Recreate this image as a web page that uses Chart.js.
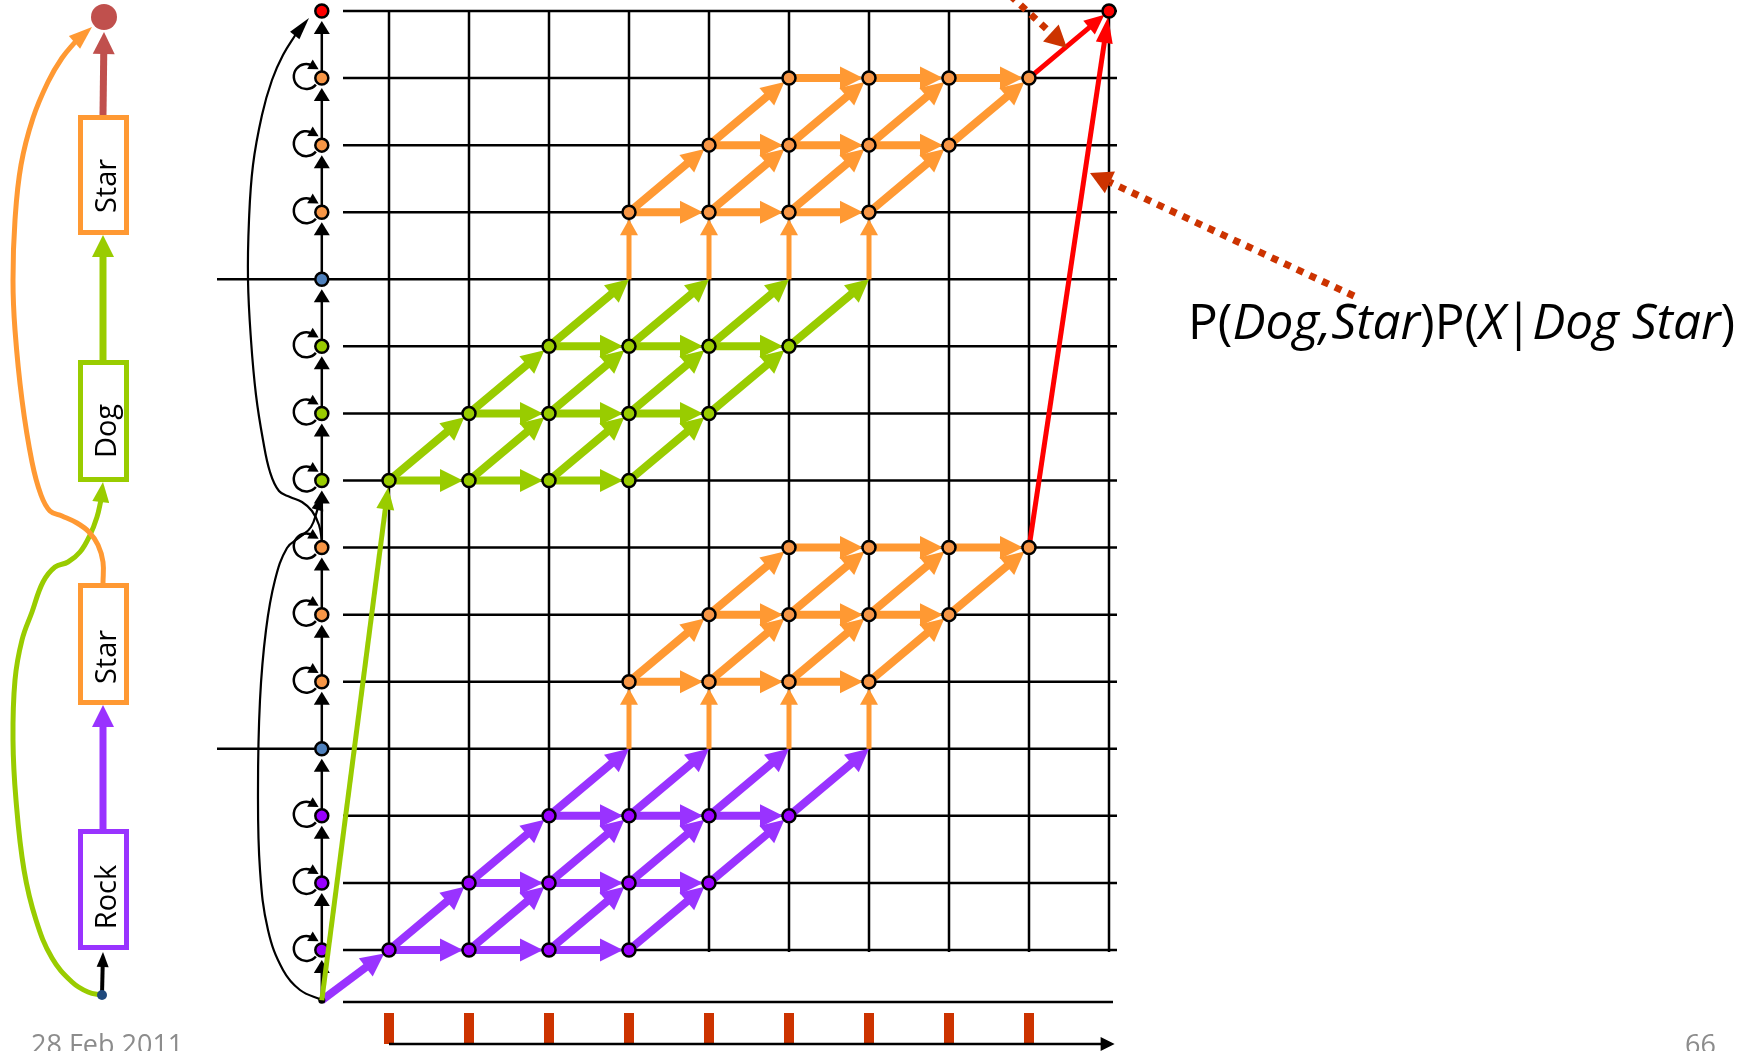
<!DOCTYPE html>
<html>
<head>
<meta charset="utf-8">
<script src="https://cdn.jsdelivr.net/npm/chart.js@4.4.1/dist/chart.umd.min.js"></script>
<style>
  html, body { margin: 0; padding: 0; background: #fff; overflow: hidden; }
  #wrap { position: relative; width: 1750px; height: 1051px; font-family: 'Open Sans', sans-serif; }
  #lattice { position: absolute; left: 0; top: 0; }
  .label { position: absolute; white-space: nowrap; line-height: 1; color: #000; }
  .word { font-size: 29px; transform: translate(-50%, -50%) rotate(-90deg); }
  .formula { font-size: 49.5px; }
  .footer { font-size: 27px; color: #8c8c8c; }
</style>
</head>
<body>
<div id="wrap">
  <canvas id="lattice" width="1750" height="1051"></canvas>
  <div class="label formula" style="left:1188px; top:296px">P(<i>Dog,Star</i>)P(<i>X</i>|<i>Dog Star</i>)</div>
  <div class="label footer" style="left:31px; top:1030px">28 Feb 2011</div>
  <div class="label footer" style="left:1685px; top:1030px">66</div>
</div>
<script>
  // colours
  const ORANGE = '#FF9933';
  const GREEN = '#99CC00';
  const PURPLE = '#9933FF';
  const BROWN = '#C0504D';
  const RUST = '#CC3300';
  const NODE_FILL = { purple: '#9900FF', orange: '#F79646', green: '#99CC00', blue: '#4F81BD', red: '#FF0000' };

  // lattice: columns 1..10 are frames, rows 1..15 are HMM states, row START_ROW is the start node
  const NODE_COL = 0.16;
  const START_ROW = 0.25;
  const GRID_COLS = [1, 2, 3, 4, 5, 6, 7, 8, 9, 10];
  const GRID_ROWS = [1, 2, 3, 4, 5, 6, 7, 8, 9, 10, 11, 12, 13, 14, 15];
  const BLUE_ROWS = [4, 11];
  const FRAME_TICKS = [1, 2, 3, 4, 5, 6, 7, 8, 9];
  const COLUMN_STATES = ['purple', 'purple', 'purple', 'blue', 'orange', 'orange', 'orange',
                         'green', 'green', 'green', 'blue', 'orange', 'orange', 'orange', 'red'];
  const LOOP_ROWS = [1, 2, 3, 5, 6, 7, 8, 9, 10, 12, 13, 14];

  const ROCK_ROWS = [1, 2, 3];
  const ROCK_COLS = [[1, 2, 3, 4], [2, 3, 4, 5], [3, 4, 5, 6]];
  const STAR_LO_ROWS = [5, 6, 7];
  const STAR_LO_COLS = [[4, 5, 6, 7], [5, 6, 7, 8], [6, 7, 8, 9]];
  const DOG_ROWS = [8, 9, 10];
  const DOG_COLS = [[1, 2, 3, 4], [2, 3, 4, 5], [3, 4, 5, 6]];
  const STAR_HI_ROWS = [12, 13, 14];
  const STAR_HI_COLS = [[4, 5, 6, 7], [5, 6, 7, 8], [6, 7, 8, 9]];
  const END_NODE = [10, 15];

  // word chain on the left (page units)
  const CHAIN_WORDS = ['Star', 'Dog', 'Star', 'Rock'];
  const CHAIN_COLORS = [ORANGE, GREEN, ORANGE, PURPLE];
  const BOX_TOP = [117.5, 362.5, 585.5, 831.5];
  const BOX_BOTTOM = [232.5, 479.5, 702.5, 947.5];
  const BOX_LEFT = 80.5, BOX_RIGHT = 126.5;
  const LABEL_Y = [186, 431, 657, 897];
  const CHAIN_X = 103;
  const CHAIN_END = [104, 17];
  const CHAIN_START = [102, 995];

  const ORANGE_SKIP = [[103, 583], [103, 562], [98, 545], [89, 532], [77, 523], [62, 516], [50, 511], [41, 495],
    [32, 462], [22, 400], [15, 330], [13, 280], [15, 220], [21, 165], [33, 118], [48, 82], [62, 58], [76, 41]];
  const ORANGE_SKIP_TIP = [92, 27];
  const GREEN_SKIP = [[102, 995], [88, 992], [72, 982], [52, 958], [36, 920], [24, 870], [16, 800], [13, 740],
    [15, 680], [22, 640], [32, 612], [43, 582], [55, 567], [68, 562], [80, 552], [90, 535], [97, 517], [101, 500]];
  const GREEN_SKIP_TIP = [103, 482];

  // long black arcs beside the state column (page units)
  const ARC_TO_DOG = [[322, 1000], [300, 990], [283, 970], [268, 930], [260, 870], [258, 790], [260, 700],
    [266, 630], [275, 580], [287, 548], [300, 537], [311, 527], [318, 508]];
  const ARC_TO_DOG_TIP = [322, 494];
  const ARC_TO_END = [[322, 541], [319, 525], [312, 511], [302, 502], [290, 497], [279, 491], [270, 472],
    [263, 440], [256, 395], [251, 340], [248, 280], [249, 220], [253, 165], [262, 115], [272, 80], [283, 55], [296, 34]];
  const ARC_TO_END_TIP = [309, 18];

  // dotted call-out arrows (page units)
  const CALLOUT_TOP = [[1000, -14], [1067, 48]];
  const CALLOUT_TEXT = [[1354, 296], [1090, 173]];

  // ---------- helpers ----------
  const seg = (x1, y1, x2, y2, color, width, extra) => Object.assign({
    data: [{ x: x1, y: y1 }, { x: x2, y: y2 }],
    showLine: true, pointRadius: 0, borderColor: color, borderWidth: width,
    borderCapStyle: 'butt', order: 10
  }, extra || {});

  const pts = arr => arr.map(p => ({ x: p[0], y: p[1] }));

  function blockNodes(rows, cols, state) {
    return rows.flatMap((r, i) => cols[i].map(c => ({ x: c, y: r, s: state })));
  }

  function blockArrows(rows, cols, color, exits) {
    const out = [];
    rows.forEach((r, i) => {
      const cs = cols[i];
      for (let k = 0; k + 1 < cs.length; k++) out.push({ from: [cs[k], r], to: [cs[k + 1], r], color, gap: 6 });
      const last = i === rows.length - 1;
      if (!last || exits) cs.forEach(c => out.push({ from: [c, r], to: [c + 1, r + 1], color, gap: last ? 0 : 6 }));
    });
    return out;
  }

  // ---------- datasets ----------
  const datasets = [];

  GRID_ROWS.forEach(r => datasets.push(seg(BLUE_ROWS.includes(r) ? -1.15 : 0.425, r, 10.1, r, '#000', 2.5)));
  GRID_COLS.forEach(c => datasets.push(seg(c, 0.97, c, 15, '#000', 2.5)));
  datasets.push(seg(0.425, 0.225, 10.05, 0.225, '#000', 2.5));
  FRAME_TICKS.forEach(c => datasets.push(seg(c, 0.06, c, -0.40, RUST, 10)));

  // word boxes
  CHAIN_WORDS.forEach((w, i) => datasets.push({
    data: pts([[BOX_LEFT, BOX_TOP[i]], [BOX_RIGHT, BOX_TOP[i]], [BOX_RIGHT, BOX_BOTTOM[i]], [BOX_LEFT, BOX_BOTTOM[i]], [BOX_LEFT, BOX_TOP[i]]]),
    xAxisID: 'ux', yAxisID: 'uy', showLine: true, pointRadius: 0, borderColor: CHAIN_COLORS[i], borderWidth: 5,
    borderJoinStyle: 'miter', borderCapStyle: 'square', order: 9
  }));

  // curves with arrowheads
  const curve = (arr, tip, color, width, headW) => ({
    data: pts(arr), xAxisID: 'ux', yAxisID: 'uy', showLine: true, pointRadius: 0, tension: 0.4,
    borderColor: color, borderWidth: width, borderCapStyle: 'butt', order: 9, arrowTip: tip, arrowWidth: headW
  });
  datasets.push(curve(ORANGE_SKIP, ORANGE_SKIP_TIP, ORANGE, 5, 17));
  datasets.push(curve(GREEN_SKIP, GREEN_SKIP_TIP, GREEN, 5, 17));
  datasets.push(curve(ARC_TO_DOG, ARC_TO_DOG_TIP, '#000', 2.2, 12));
  datasets.push(curve(ARC_TO_END, ARC_TO_END_TIP, '#000', 2.2, 12));

  // marker: arrows of the lattice are painted here, under the nodes
  datasets.push({ data: [], order: 5, latticeLayer: true });

  // nodes
  const latticeNodes = [].concat(
    COLUMN_STATES.map((s, i) => ({ x: NODE_COL, y: i + 1, s })),
    blockNodes(ROCK_ROWS, ROCK_COLS, 'purple'),
    blockNodes(STAR_LO_ROWS, STAR_LO_COLS, 'orange'),
    blockNodes(DOG_ROWS, DOG_COLS, 'green'),
    blockNodes(STAR_HI_ROWS, STAR_HI_COLS, 'orange'),
    [{ x: END_NODE[0], y: END_NODE[1], s: 'red' }]
  );
  datasets.push({
    data: latticeNodes, pointRadius: 6.5, pointBorderWidth: 2.5, pointBorderColor: '#000',
    pointBackgroundColor: latticeNodes.map(n => NODE_FILL[n.s]), order: 1
  });
  datasets.push({ data: [{ x: NODE_COL, y: START_ROW }], pointRadius: 3.5, pointBorderWidth: 0, pointBackgroundColor: '#000', order: 1 });
  datasets.push({
    data: pts([CHAIN_END]), xAxisID: 'ux', yAxisID: 'uy', pointRadius: 13, pointBorderWidth: 0,
    pointBackgroundColor: BROWN, order: 1
  });
  datasets.push({
    data: pts([CHAIN_START]), xAxisID: 'ux', yAxisID: 'uy', pointRadius: 5, pointBorderWidth: 0,
    pointBackgroundColor: '#1F497D', order: 1
  });

  // ---------- arrow drawing ----------
  const latticeArrows = [].concat(
    blockArrows(ROCK_ROWS, ROCK_COLS, PURPLE, true),
    blockArrows(STAR_LO_ROWS, STAR_LO_COLS, ORANGE, false),
    blockArrows(DOG_ROWS, DOG_COLS, GREEN, true),
    blockArrows(STAR_HI_ROWS, STAR_HI_COLS, ORANGE, false)
  );
  const orangeRisers = [].concat(
    STAR_LO_COLS[0].map(c => ({ from: [c, BLUE_ROWS[0]], to: [c, STAR_LO_ROWS[0]] })),
    STAR_HI_COLS[0].map(c => ({ from: [c, BLUE_ROWS[1]], to: [c, STAR_HI_ROWS[0]] }))
  );

  function toPx(chart, p, units) {
    const sx = chart.scales[units === 'u' ? 'ux' : 'x'];
    const sy = chart.scales[units === 'u' ? 'uy' : 'y'];
    return [sx.getPixelForValue(p[0]), sy.getPixelForValue(p[1])];
  }

  function head(ctx, tx, ty, ux, uy, len, wid, color) {
    const bx = tx - ux * len, by = ty - uy * len, nx = -uy * wid / 2, ny = ux * wid / 2;
    ctx.fillStyle = color;
    ctx.beginPath();
    ctx.moveTo(tx, ty);
    ctx.lineTo(bx + nx, by + ny);
    ctx.lineTo(bx - nx, by - ny);
    ctx.closePath();
    ctx.fill();
  }

  function arrow(chart, from, to, units, o) {
    const ctx = chart.ctx;
    const [x1, y1] = toPx(chart, from, units);
    const [x2, y2] = toPx(chart, to, units);
    const d = Math.hypot(x2 - x1, y2 - y1), ux = (x2 - x1) / d, uy = (y2 - y1) / d;
    const tx = x2 - ux * (o.gap || 0), ty = y2 - uy * (o.gap || 0);
    const back = o.dash ? o.len : o.len * 0.8;
    ctx.save();
    ctx.strokeStyle = o.color;
    ctx.lineWidth = o.width;
    ctx.lineCap = 'butt';
    if (o.dash) ctx.setLineDash(o.dash);
    ctx.beginPath();
    ctx.moveTo(x1, y1);
    ctx.lineTo(tx - ux * back, ty - uy * back);
    ctx.stroke();
    ctx.setLineDash([]);
    head(ctx, tx, ty, ux, uy, o.len, o.head, o.color);
    ctx.restore();
  }

  function loop(ctx, x, y) {
    const cx = x - 15.5, cy = y - 1.5, r = 12.5;
    const a0 = 40 * Math.PI / 180, a1 = 300 * Math.PI / 180;
    ctx.save();
    ctx.strokeStyle = '#000';
    ctx.lineWidth = 2.5;
    ctx.beginPath();
    ctx.arc(cx, cy, r, a0, a1, false);
    ctx.stroke();
    const ex = cx + r * Math.cos(a1), ey = cy + r * Math.sin(a1);
    const tx = -Math.sin(a1), ty = Math.cos(a1);
    head(ctx, ex + tx * 7, ey + ty * 7, tx, ty, 10, 11, '#000');
    ctx.restore();
  }

  function drawLatticeLayer(chart) {
    const ctx = chart.ctx;
    // state column transitions
    COLUMN_STATES.forEach((s, i) => {
      arrow(chart, [NODE_COL, i === 0 ? START_ROW : i], [NODE_COL, i + 1], 'l',
        { color: '#000', width: 2.5, len: 13, head: 16, gap: 10 });
    });
    LOOP_ROWS.forEach(r => {
      const [x, y] = toPx(chart, [NODE_COL, r], 'l');
      loop(ctx, x, y);
    });
    // word lattices
    latticeArrows.forEach(a => arrow(chart, a.from, a.to, 'l', { color: a.color, width: 8, len: 23, head: 23, gap: a.gap }));
    orangeRisers.forEach(a => arrow(chart, a.from, a.to, 'l', { color: ORANGE, width: 5, len: 16, head: 18, gap: 7 }));
    arrow(chart, [NODE_COL, START_ROW], [ROCK_COLS[0][0], ROCK_ROWS[0]], 'l', { color: PURPLE, width: 8, len: 23, head: 23, gap: 6 });
    // exits to the end node
    arrow(chart, [STAR_HI_COLS[2][3], STAR_HI_ROWS[2]], END_NODE, 'l', { color: '#FF0000', width: 5, len: 20, head: 18, gap: 6 });
    arrow(chart, [STAR_LO_COLS[2][3], STAR_LO_ROWS[2]], END_NODE, 'l', { color: '#FF0000', width: 5, len: 26, head: 17, gap: 6 });
    // word chain arrows
    arrow(chart, CHAIN_START, [CHAIN_X, BOX_BOTTOM[3] + 4.5], 'u', { color: '#000', width: 4, len: 15, head: 12 });
    arrow(chart, [CHAIN_X, BOX_TOP[3] - 2.5], [CHAIN_X, BOX_BOTTOM[2] + 2.5], 'u', { color: PURPLE, width: 7, len: 22, head: 22 });
    arrow(chart, [CHAIN_X, BOX_TOP[1] - 2.5], [CHAIN_X, BOX_BOTTOM[0] + 2.5], 'u', { color: GREEN, width: 7, len: 22, head: 22 });
    arrow(chart, [CHAIN_X, BOX_TOP[0] - 2.5], [CHAIN_END[0], CHAIN_END[1] + 15], 'u', { color: BROWN, width: 7, len: 22, head: 22 });
  }

  const arrowPlugin = {
    id: 'arrows',
    afterDatasetDraw(chart, args) {
      const ds = chart.data.datasets[args.index];
      if (ds.latticeLayer) drawLatticeLayer(chart);
      if (ds.arrowTip) {
        const pts = args.meta.data;
        const base = pts[pts.length - 1];
        const [tx, ty] = toPx(chart, ds.arrowTip, 'u');
        const len = Math.hypot(tx - base.x, ty - base.y);
        chart.ctx.save();
        head(chart.ctx, tx, ty, (tx - base.x) / len, (ty - base.y) / len, len + 2, ds.arrowWidth, ds.borderColor);
        chart.ctx.restore();
      }
    },
    afterDatasetsDraw(chart) {
      arrow(chart, [NODE_COL, START_ROW], [DOG_COLS[0][0], DOG_ROWS[0]], 'l', { color: GREEN, width: 5, len: 22, head: 18, gap: 7 });
      arrow(chart, [FRAME_TICKS[0], -0.40], [10.07, -0.40], 'l', { color: '#000', width: 2.5, len: 14, head: 14 });
      arrow(chart, CALLOUT_TOP[0], CALLOUT_TOP[1], 'u', { color: RUST, width: 7, len: 22, head: 23, dash: [7, 7] });
      arrow(chart, CALLOUT_TEXT[0], CALLOUT_TEXT[1], 'u', { color: RUST, width: 7, len: 22, head: 24, dash: [7, 7] });
    }
  };

  new Chart(document.getElementById('lattice'), {
    type: 'scatter',
    data: { datasets },
    options: {
      responsive: false,
      animation: false,
      devicePixelRatio: 1,
      events: [],
      layout: { padding: 0, autoPadding: false },
      plugins: { legend: { display: false }, tooltip: { enabled: false } },
      scales: {
        x: { type: 'linear', min: -3.8625, max: 18.0125, display: false },
        y: { type: 'linear', min: -0.506, max: 15.164, display: false },
        ux: { type: 'linear', axis: 'x', min: 0, max: 1750, display: false },
        uy: { type: 'linear', axis: 'y', min: 0, max: 1051, reverse: true, display: false }
      }
    },
    plugins: [arrowPlugin]
  });

  // rotated word labels inside the boxes
  const wrap = document.getElementById('wrap');
  CHAIN_WORDS.forEach((w, i) => {
    const el = document.createElement('div');
    el.className = 'label word';
    el.textContent = w;
    el.style.left = (BOX_LEFT + BOX_RIGHT) / 2 + 'px';
    el.style.top = LABEL_Y[i] + 'px';
    wrap.appendChild(el);
  });
</script>
</body>
</html>
